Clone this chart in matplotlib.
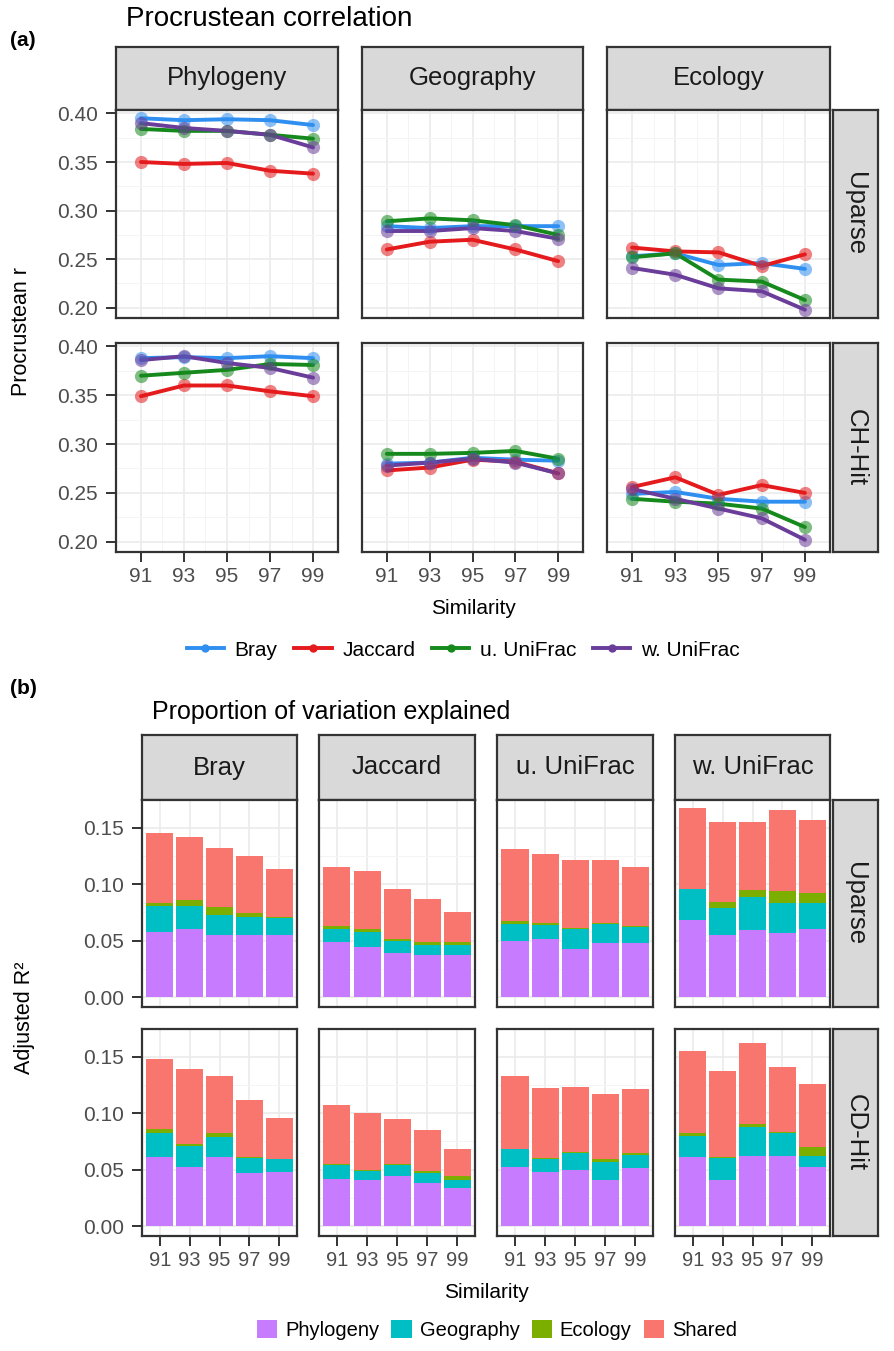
import matplotlib
matplotlib.use("Agg")
import matplotlib.pyplot as plt
from matplotlib.lines import Line2D
from matplotlib.patches import Patch
import numpy as np

plt.rcParams['font.family'] = ['Liberation Sans', 'DejaVu Sans']

# ---------------- data ----------------
similarity = [91, 93, 95, 97, 99]
metrics = ['Bray', 'Jaccard', 'u. UniFrac', 'w. UniFrac']
factors = ['Phylogeny', 'Geography', 'Ecology']
rows_a = ['Uparse', 'CH-Hit']
rows_b = ['Uparse', 'CD-Hit']
components = ['Phylogeny', 'Geography', 'Ecology', 'Shared']

# (a) Procrustean r, one dict per facet
r_uparse_phylogeny = {'Bray': [0.395, 0.393, 0.394, 0.393, 0.388],
                      'Jaccard': [0.350, 0.348, 0.349, 0.341, 0.338],
                      'u. UniFrac': [0.384, 0.382, 0.382, 0.378, 0.374],
                      'w. UniFrac': [0.390, 0.385, 0.382, 0.378, 0.365]}
r_uparse_geography = {'Bray': [0.284, 0.282, 0.284, 0.284, 0.284],
                      'Jaccard': [0.260, 0.268, 0.270, 0.260, 0.248],
                      'u. UniFrac': [0.289, 0.292, 0.290, 0.285, 0.275],
                      'w. UniFrac': [0.279, 0.279, 0.282, 0.279, 0.271]}
r_uparse_ecology = {'Bray': [0.253, 0.256, 0.244, 0.246, 0.240],
                    'Jaccard': [0.262, 0.258, 0.257, 0.243, 0.255],
                    'u. UniFrac': [0.252, 0.256, 0.229, 0.227, 0.208],
                    'w. UniFrac': [0.241, 0.234, 0.220, 0.217, 0.198]}
r_chhit_phylogeny = {'Bray': [0.388, 0.389, 0.388, 0.390, 0.388],
                     'Jaccard': [0.349, 0.360, 0.360, 0.354, 0.349],
                     'u. UniFrac': [0.370, 0.373, 0.376, 0.382, 0.381],
                     'w. UniFrac': [0.386, 0.390, 0.383, 0.378, 0.368]}
r_chhit_geography = {'Bray': [0.280, 0.281, 0.286, 0.284, 0.283],
                     'Jaccard': [0.273, 0.276, 0.284, 0.282, 0.270],
                     'u. UniFrac': [0.290, 0.290, 0.291, 0.293, 0.285],
                     'w. UniFrac': [0.278, 0.281, 0.285, 0.281, 0.270]}
r_chhit_ecology = {'Bray': [0.249, 0.251, 0.244, 0.241, 0.241],
                   'Jaccard': [0.256, 0.266, 0.248, 0.258, 0.250],
                   'u. UniFrac': [0.244, 0.241, 0.239, 0.234, 0.215],
                   'w. UniFrac': [0.254, 0.244, 0.234, 0.224, 0.202]}

# (b) adjusted R2 components (Phylogeny, Geography, Ecology, Shared)
var_uparse_bray = [[0.058, 0.060, 0.055, 0.055, 0.055],
                   [0.023, 0.021, 0.018, 0.016, 0.015],
                   [0.002, 0.005, 0.007, 0.003, 0.001],
                   [0.062, 0.056, 0.052, 0.051, 0.042]]
var_uparse_jaccard = [[0.049, 0.044, 0.039, 0.037, 0.037],
                      [0.011, 0.014, 0.011, 0.009, 0.009],
                      [0.003, 0.002, 0.001, 0.003, 0.003],
                      [0.052, 0.052, 0.045, 0.038, 0.026]]
var_uparse_uunifrac = [[0.050, 0.051, 0.043, 0.048, 0.048],
                       [0.015, 0.013, 0.017, 0.017, 0.014],
                       [0.002, 0.002, 0.001, 0.001, 0.001],
                       [0.064, 0.061, 0.060, 0.055, 0.052]]
var_uparse_wunifrac = [[0.068, 0.055, 0.059, 0.057, 0.060],
                       [0.028, 0.024, 0.030, 0.026, 0.023],
                       [0.000, 0.005, 0.006, 0.011, 0.009],
                       [0.071, 0.071, 0.060, 0.072, 0.065]]
var_cdhit_bray = [[0.061, 0.052, 0.061, 0.047, 0.048],
                  [0.021, 0.019, 0.018, 0.013, 0.011],
                  [0.004, 0.002, 0.003, 0.001, 0.000],
                  [0.062, 0.066, 0.051, 0.051, 0.037]]
var_cdhit_jaccard = [[0.042, 0.041, 0.044, 0.038, 0.034],
                     [0.012, 0.008, 0.010, 0.009, 0.007],
                     [0.001, 0.001, 0.001, 0.002, 0.003],
                     [0.052, 0.050, 0.040, 0.036, 0.024]]
var_cdhit_uunifrac = [[0.052, 0.048, 0.050, 0.041, 0.051],
                      [0.016, 0.011, 0.015, 0.016, 0.012],
                      [0.000, 0.001, 0.001, 0.002, 0.002],
                      [0.065, 0.062, 0.057, 0.058, 0.056]]
var_cdhit_wunifrac = [[0.061, 0.041, 0.062, 0.062, 0.052],
                      [0.019, 0.019, 0.026, 0.020, 0.010],
                      [0.002, 0.001, 0.002, 0.001, 0.008],
                      [0.073, 0.076, 0.072, 0.058, 0.056]]

line_colors = {'Bray': '#2f8ff0', 'Jaccard': '#e41a1c',
               'u. UniFrac': '#15891c', 'w. UniFrac': '#6a3d9a'}
comp_colors = ['#C77CFF', '#00BFC4', '#7CAE00', '#F8766D']

W, H = 895, 1351
fig = plt.figure(figsize=(W / 100, H / 100), dpi=100)
DARK = '#333333'
TICK_C = '#4d4d4d'


def px_axes(x0, y0, x1, y1):
    return fig.add_axes([x0 / W, 1 - y1 / H, (x1 - x0) / W, (y1 - y0) / H])


def style_panel(ax):
    ax.set_facecolor('white')
    for s in ax.spines.values():
        s.set_color(DARK)
        s.set_linewidth(1.6)
    ax.grid(which='major', color='#ebebeb', lw=1.2)
    ax.grid(which='minor', color='#f4f4f4', lw=0.7)
    ax.set_axisbelow(True)
    ax.tick_params(which='major', length=7, width=1.4, color=DARK,
                   labelsize=15, labelcolor=TICK_C, pad=6)
    ax.tick_params(which='minor', length=0)


def strip(x0, y0, x1, y1, label, rot=0, size=18.5):
    ax = px_axes(x0, y0, x1, y1)
    ax.set_facecolor('#d9d9d9')
    ax.set_xticks([])
    ax.set_yticks([])
    for s in ax.spines.values():
        s.set_color(DARK)
        s.set_linewidth(1.6)
    ax.text(0.5, 0.5, label, ha='center', va='center', rotation=rot,
            fontsize=size, color='#1a1a1a', transform=ax.transAxes)


# ---------------- (a) ----------------
cols_a = [(116, 338), (362, 583), (607, 830)]
rowy_a = [(110, 318), (343, 552)]
data_a = [[r_uparse_phylogeny, r_uparse_geography, r_uparse_ecology],
          [r_chhit_phylogeny, r_chhit_geography, r_chhit_ecology]]

fig.text(10 / W, 1 - 40 / H, '(a)', fontsize=15, fontweight='bold', va='center')
fig.text(126 / W, 1 - 19 / H, 'Procrustean correlation', fontsize=20, va='center')

for j, (x0, x1) in enumerate(cols_a):
    strip(x0, 47, x1, 110, factors[j])
for i, (y0, y1) in enumerate(rowy_a):
    strip(833, y0, 878, y1, rows_a[i], rot=270)
    for j, (x0, x1) in enumerate(cols_a):
        ax = px_axes(x0, y0, x1, y1)
        style_panel(ax)
        for m in metrics:
            ax.plot(similarity, data_a[i][j][m], color=line_colors[m], lw=2.8,
                    solid_capstyle='round', zorder=3)
            ax.plot(similarity, data_a[i][j][m], 'o', color=line_colors[m],
                    ms=9.5, alpha=0.55, mec='none', zorder=4)
        ax.set_xlim(89.84, 100.16)
        ax.set_ylim(0.1895, 0.4035)
        ax.set_xticks(similarity)
        ax.set_xticks([92, 94, 96, 98], minor=True)
        ax.set_yticks([0.20, 0.25, 0.30, 0.35, 0.40])
        ax.set_yticks([0.225, 0.275, 0.325, 0.375], minor=True)
        if j == 0:
            ax.set_yticklabels(['0.20', '0.25', '0.30', '0.35', '0.40'])
        else:
            ax.tick_params(axis='y', length=0, labelleft=False)
        if i == 0:
            ax.tick_params(axis='x', length=0, labelbottom=False)
        else:
            ax.tick_params(axis='x', pad=4)

fig.text(22 / W, 1 - 331 / H, 'Procrustean r', rotation=90, fontsize=15.5,
         ha='center', va='center')
fig.text(473 / W, 1 - 608 / H, 'Similarity', fontsize=15, ha='center', va='center')

handles_a = [Line2D([0], [0], color=line_colors[m], lw=2.8, marker='o', ms=5)
             for m in metrics]
fig.legend(handles_a, metrics, loc='center', bbox_to_anchor=(463 / W, 1 - 650 / H),
           ncol=4, frameon=False, fontsize=15, handlelength=1.8,
           columnspacing=0.8, handletextpad=0.5)

# ---------------- (b) ----------------
cols_b = [(142, 297), (319, 475), (497, 653), (675, 830)]
rowy_b = [(800, 1007), (1029, 1236)]
data_b = [[var_uparse_bray, var_uparse_jaccard, var_uparse_uunifrac, var_uparse_wunifrac],
          [var_cdhit_bray, var_cdhit_jaccard, var_cdhit_uunifrac, var_cdhit_wunifrac]]

fig.text(10 / W, 1 - 688 / H, '(b)', fontsize=15, fontweight='bold', va='center')
fig.text(152 / W, 1 - 712 / H, 'Proportion of variation explained', fontsize=18,
         va='center')

pos = np.arange(1, 6)
for j, (x0, x1) in enumerate(cols_b):
    strip(x0, 735, x1, 800, metrics[j])
for i, (y0, y1) in enumerate(rowy_b):
    strip(833, y0, 878, y1, rows_b[i], rot=270)
    for j, (x0, x1) in enumerate(cols_b):
        ax = px_axes(x0, y0, x1, y1)
        style_panel(ax)
        bottom = np.zeros(5)
        for k, comp in enumerate(data_b[i][j]):
            ax.bar(pos, comp, width=0.9, bottom=bottom, color=comp_colors[k],
                   edgecolor='none', zorder=3)
            bottom = bottom + np.array(comp)
        ax.set_xlim(0.4, 5.6)
        ax.set_ylim(-0.0088, 0.1745)
        ax.set_xticks(pos)
        ax.set_xticklabels([str(s) for s in similarity])
        ax.set_yticks([0.0, 0.05, 0.10, 0.15])
        ax.set_yticks([0.025, 0.075, 0.125], minor=True)
        if j == 0:
            ax.set_yticklabels(['0.00', '0.05', '0.10', '0.15'])
        else:
            ax.tick_params(axis='y', length=0, labelleft=False)
        if i == 0:
            ax.tick_params(axis='x', length=0, labelbottom=False)
        else:
            ax.tick_params(axis='x', pad=4)
            for lab in ax.get_xticklabels():
                lab.set_fontsize(14.5)

fig.text(25 / W, 1 - 1018 / H, 'Adjusted R²', rotation=90, fontsize=15.5,
         ha='center', va='center')
fig.text(486 / W, 1 - 1293 / H, 'Similarity', fontsize=15, ha='center', va='center')

handles_b = [Patch(facecolor=c, edgecolor='none') for c in comp_colors]
fig.legend(handles_b, components, loc='center', bbox_to_anchor=(497 / W, 1 - 1330 / H),
           ncol=4, frameon=False, fontsize=14.5, handlelength=1.0, handleheight=1.0,
           columnspacing=0.6, handletextpad=0.4)

fig.savefig('out.png', dpi=100, facecolor='white')
